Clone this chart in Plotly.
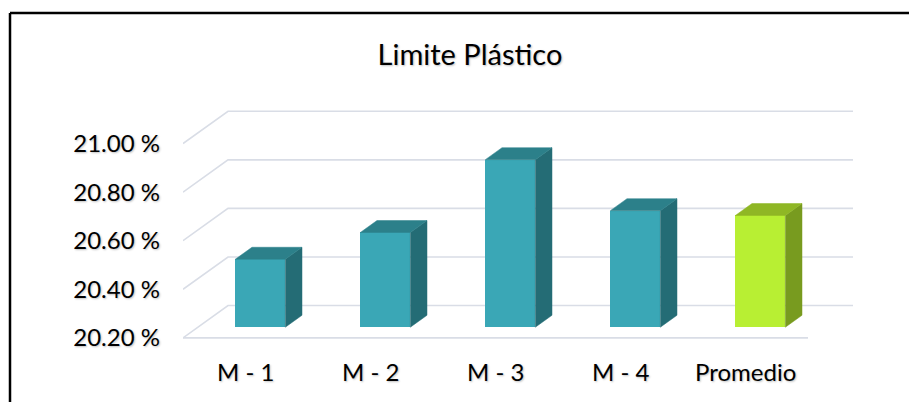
import plotly.graph_objects as go

categories = ["M - 1", "M - 2", "M - 3", "M - 4", "Promedio"]
values = [20.48, 20.59, 20.89, 20.68, 20.66]
tick_vals = [20.2, 20.4, 20.6, 20.8, 21.0]
tick_text = ["20.20 %", "20.40 %", "20.60 %", "20.80 %", "21.00 %"]

# colours: front, top, side
teal = ("#3aa7b6", "#2c808a", "#246c75")
lime = ("#b8ef33", "#8fb725", "#789b1f")
bar_colors = [teal, teal, teal, teal, lime]

# page body has an 8px margin, so the figure is shrunk by that much
OFF = 8
W, H = 917 - OFF, 402 - OFF
L, R, T, B = 183 - OFF, 59, 95 - OFF, 52
base_val = 20.2
x_rng = [-0.5, 4.9]
y_rng = [20.15, 21.2]

# oblique projection: depth 1 = back wall
DX, DY = 0.36, 0.133
D_FRONT, D_BACK = 0.33, 0.70
BW = 0.4

grid_col = "#d9dde6"

fig = go.Figure()

# left wall diagonals, back wall lines and floor front edge (below the bars)
for v in tick_vals:
    fig.add_shape(type="path", xref="x", yref="y", layer="below",
                  path=f"M {-0.5},{v} L {-0.5 + DX},{v + DY} L {4.5 + DX},{v + DY}",
                  line=dict(color=grid_col, width=1.6))
fig.add_shape(type="line", xref="x", yref="y", layer="below",
              x0=-0.5, x1=4.5, y0=base_val, y1=base_val,
              line=dict(color=grid_col, width=1.6))

for i, (v, cols) in enumerate(zip(values, bar_colors)):
    xl, xr = i - BW / 2, i + BW / 2
    fx, fy = D_FRONT * DX, D_FRONT * DY
    bx, by = D_BACK * DX, D_BACK * DY
    # side face
    fig.add_trace(go.Scatter(
        x=[xr + fx, xr + bx, xr + bx, xr + fx, xr + fx],
        y=[base_val + fy, base_val + by, v + by, v + fy, base_val + fy],
        fill="toself", fillcolor=cols[2], mode="lines",
        line=dict(color=cols[2], width=0.5), hoverinfo="skip", showlegend=False))
    # top face
    fig.add_trace(go.Scatter(
        x=[xl + fx, xr + fx, xr + bx, xl + bx, xl + fx],
        y=[v + fy, v + fy, v + by, v + by, v + fy],
        fill="toself", fillcolor=cols[1], mode="lines",
        line=dict(color=cols[1], width=0.5), hoverinfo="skip", showlegend=False))

# front faces
fig.add_trace(go.Bar(
    x=[i + D_FRONT * DX for i in range(len(values))],
    y=[v - base_val for v in values],
    base=base_val + D_FRONT * DY,
    width=BW,
    marker=dict(color=[c[0] for c in bar_colors], line=dict(width=0)),
    hoverinfo="skip", showlegend=False))

shadow = "1px 1px 2px rgba(0,0,0,0.25)"
lab_font = dict(family="Lato, Carlito, sans-serif", size=24, color="#000000", shadow=shadow)
for i, c in enumerate(categories):
    fig.add_annotation(x=i, y=base_val, yshift=-34, text=c, showarrow=False,
                       font=lab_font, xanchor="center", yanchor="middle")

pw = W - L - R
ph = H - T - B
def px_x(p):
    return (p - OFF - L) / pw
def px_y(p):
    return (H - B - (p - OFF)) / ph

# chart border (left and top)
fig.add_shape(type="line", xref="paper", yref="paper",
              x0=px_x(10), x1=px_x(920), y0=px_y(13), y1=px_y(13),
              line=dict(color="#000000", width=2.5))
fig.add_shape(type="line", xref="paper", yref="paper",
              x0=px_x(10), x1=px_x(10), y0=px_y(13), y1=px_y(405),
              line=dict(color="#000000", width=2.5))

fig.update_layout(
    width=W, height=H,
    margin=dict(l=L, r=R, t=T, b=B),
    paper_bgcolor="white", plot_bgcolor="white",
    title=dict(text="Limite Plástico", xref="container", x=(470 - OFF) / W,
               y=(H - (55 - OFF)) / H, xanchor="center", yanchor="middle",
               font=dict(family="Lato, Carlito, sans-serif", size=29, color="#000000", shadow=shadow)),
    xaxis=dict(range=x_rng, showgrid=False, zeroline=False, showticklabels=False,
               showline=False, fixedrange=True),
    yaxis=dict(range=y_rng, showgrid=False, zeroline=False, tickvals=tick_vals,
               ticktext=tick_text, ticks="", ticklabelstandoff=22,
               tickfont=lab_font, showline=False, fixedrange=True),
    bargap=0,
)

fig.write_html("out.html")
